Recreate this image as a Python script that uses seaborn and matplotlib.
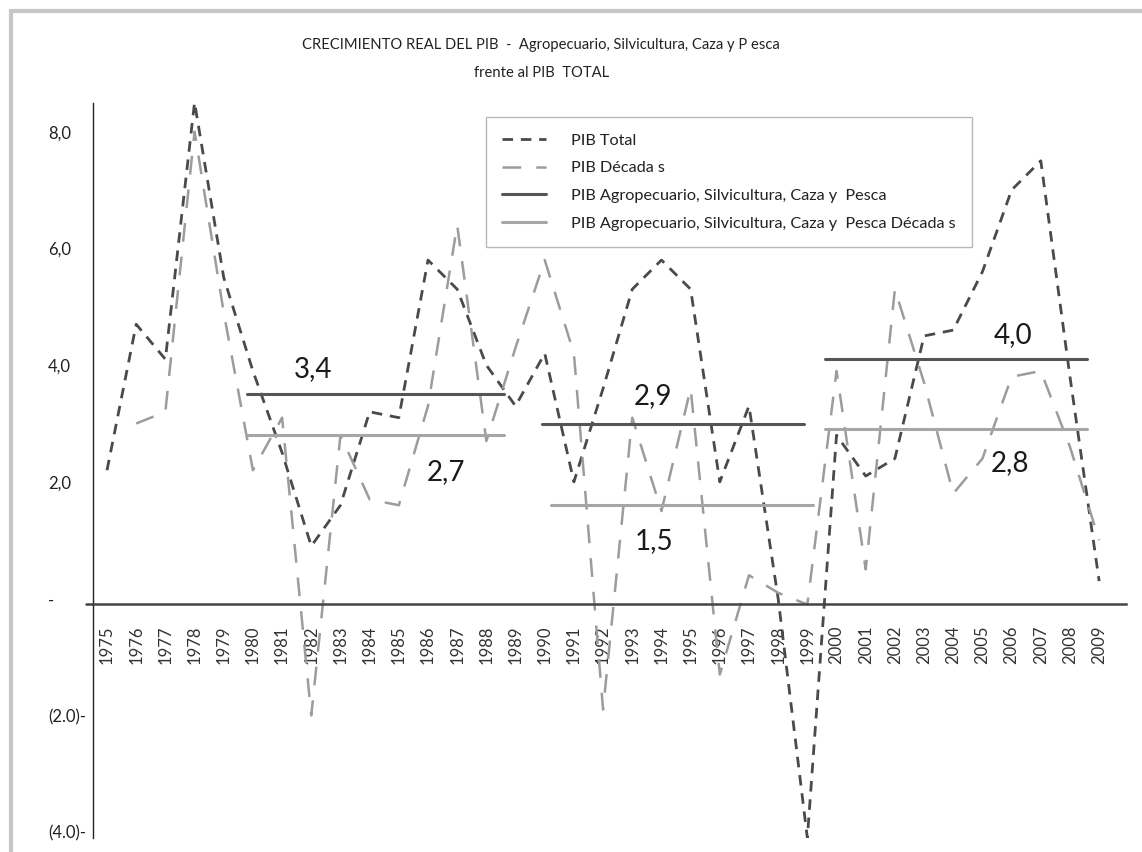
import matplotlib.pyplot as plt
import matplotlib.patches as mpatches
import matplotlib.transforms as mtransforms
import numpy as np
import pandas as pd
import seaborn as sns

# data
years = list(range(1975, 2010))
pib_total = [2.1, 4.6, 4.0, 8.4, 5.4, 3.8, 2.4, 0.8, 1.5, 3.1,
             3.0, 5.7, 5.2, 3.9, 3.2, 4.1, 1.9, 3.5, 5.2, 5.7,
             5.2, 1.9, 3.2, -0.1, -4.2, 2.7, 2.0, 2.3, 4.4, 4.5,
             5.5, 6.9, 7.4, 3.7, 0.2]
pib_decadas = [np.nan, 2.9, 3.1, 7.9, 4.8, 2.1, 3.0, -2.1, 2.7, 1.6,
               1.5, 3.2, 6.3, 2.6, 4.2, 5.7, 4.1, -2.0, 3.0, 1.4,
               3.5, -1.4, 0.3, 0.0, -0.2, 3.8, 0.4, 5.2, 3.6, 1.7,
               2.3, 3.7, 3.8, 2.5, 0.9]

# decade averages and the year span each line covers
agro_avg = [3.4, 2.9, 4.0]
agro_span = [(1979.8, 1988.6), (1989.9, 1998.9), (1999.6, 2008.6)]
agro_dec_avg = [2.7, 1.5, 2.8]
agro_dec_span = [(1979.8, 1988.6), (1990.2, 1999.2), (1999.6, 2008.6)]

ytick_values = [8, 6, 4, 2, 0, -2, -4]
ytick_labels = ["8,0", "6,0", "4,0", "2,0", "-", "(2.0)-", "(4.0)-"]

labels = ["PIB Total", "PIB Década s",
          "PIB Agropecuario, Silvicultura, Caza y  Pesca",
          "PIB Agropecuario, Silvicultura, Caza y  Pesca Década s"]

df = pd.DataFrame({"Año": years, "Total": pib_total, "Decadas": pib_decadas})

sns.set_style("white")
plt.rcParams["font.family"] = ["Lato", "DejaVu Sans"]

W, H = 1142, 852
fig = plt.figure(figsize=(W / 100, H / 100), dpi=100)
ax = fig.add_axes([93 / W, 1 - 838 / H, (1126 - 93) / W, (838 - 103) / H])

dark = "#4a4a4a"
light = "#9c9c9c"

sns.lineplot(data=df, x="Año", y="Total", ax=ax, color=dark, linewidth=2.0,
             linestyle=(0, (3.8, 2.8)), label=labels[0])
sns.lineplot(data=df, x="Año", y="Decadas", ax=ax, color=light, linewidth=1.8,
             linestyle=(0, (7.5, 6.0)), label=labels[1])

# decade average lines
for i, (v, (x0, x1)) in enumerate(zip(agro_avg, agro_span)):
    ax.plot([x0, x1], [v, v], color="#555555", linewidth=2.2,
            label=labels[2] if i == 0 else None)
for i, (v, (x0, x1)) in enumerate(zip(agro_dec_avg, agro_dec_span)):
    ax.plot([x0, x1], [v, v], color="#a6a6a6", linewidth=2.2,
            label=labels[3] if i == 0 else None)

# value labels next to the decade lines
label_pos_dark = [(1982.05, 3.84), (1993.7, 3.37), (2006.05, 4.42)]
label_pos_light = [(1986.6, 2.07), (1993.75, 0.89), (2005.95, 2.23)]
for v, (lx, ly) in zip(agro_avg + agro_dec_avg, label_pos_dark + label_pos_light):
    ax.text(lx, ly, f"{v:.1f}".replace(".", ","), ha="center", va="center",
            fontsize=20, color="#1a1a1a")

ax.set_xlim(1974.52, 2009.92)
ax.set_ylim(-4.2, 8.39)

# axes look
for s in ["top", "right"]:
    ax.spines[s].set_visible(False)
ax.spines["left"].set_color("#222222")
ax.spines["left"].set_linewidth(1.0)
ax.spines["bottom"].set_position(("data", -0.2))
ax.spines["bottom"].set_color("#444444")
ax.spines["bottom"].set_linewidth(1.8)
# the horizontal axis pokes out a little to the left of the y axis
ax.plot([-0.007, 0], [-0.2, -0.2], color="#444444", linewidth=1.8,
        transform=ax.get_yaxis_transform(), clip_on=False)

ax.set_xticks(years)
ax.set_xticklabels([str(y) for y in years], rotation=90, fontsize=12,
                   color="#333333", va="top")
ax.tick_params(axis="x", length=0, pad=15)
ax.set_yticks(ytick_values)
ax.set_yticklabels(ytick_labels, fontsize=12, color="#222222")
ax.tick_params(axis="y", length=0, pad=32.4)
shift_down = mtransforms.ScaledTranslation(0, -6 / 100, fig.dpi_scale_trans)
for lbl in ax.get_yticklabels():
    lbl.set_horizontalalignment("left")
    lbl.set_transform(lbl.get_transform() + shift_down)
ax.set_xlabel("")
ax.set_ylabel("")
ax.grid(False)

leg = ax.legend(loc="upper left", bbox_to_anchor=(486 / W, 1 - 117 / H),
                bbox_transform=fig.transFigure, borderaxespad=0, fontsize=11.7,
                frameon=True, fancybox=False, handlelength=2.7,
                handletextpad=1.55, labelspacing=0.82, borderpad=1.0)
leg.get_frame().set_edgecolor("#a8a8a8")
leg.get_frame().set_linewidth(1.0)
for t in leg.get_texts():
    t.set_color("#222222")

fig.text(0.474, 1 - 45 / H,
         "CRECIMIENTO REAL DEL PIB  -  Agropecuario, Silvicultura, Caza y P esca",
         ha="center", va="center", fontsize=10.6, color="#222222")
fig.text(0.474, 1 - 73 / H, "frente al PIB  TOTAL", ha="center", va="center",
         fontsize=10.6, color="#222222")

# light grey frame around the page
frame = mpatches.Rectangle((10.5 / W, -0.2), 1.3, 1.2 - 10.5 / H,
                           transform=fig.transFigure, fill=False,
                           edgecolor="#c6c6c6", linewidth=3.0, clip_on=False)
fig.add_artist(frame)

fig.savefig("out.png", dpi=100)
